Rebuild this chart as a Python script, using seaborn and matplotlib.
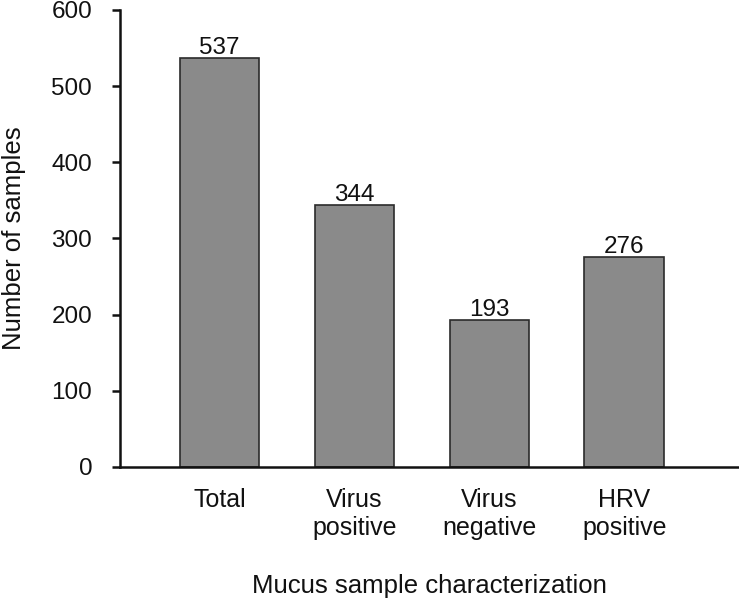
import numpy as np
import matplotlib
matplotlib.use("Agg")
import matplotlib.pyplot as plt
import pandas as pd
import seaborn as sns

# dados
categorias = ["Total", "Virus\npositive", "Virus\nnegative", "HRV\npositive"]
amostras = [537, 344, 193, 276]

df = pd.DataFrame({"categoria": categorias, "amostras": amostras})

sns.set_style("ticks")
plt.rcParams["font.family"] = ["Liberation Sans", "DejaVu Sans"]

fig = plt.figure(figsize=(7.39, 5.98), dpi=100)
ax = fig.add_axes([0.1624, 0.2191, 0.8376, 0.7642])

sns.barplot(data=df, x="categoria", y="amostras", color="#8a8a8a",
            saturation=1, width=0.59, edgecolor="#2b2b2b", linewidth=1.2, ax=ax)

# rotulos em cima das barras
for i, v in enumerate(amostras):
    ax.text(i, v + 5, str(v), ha="center", va="baseline", fontsize=17.5, color="#111111")

ax.set_ylim(0, 600)
ax.set_yticks(np.arange(0, 601, 100))
ax.set_xlim(-0.737, 3.85)

ax.spines["right"].set_visible(False)
ax.spines["top"].set_visible(False)
for s in ["left", "bottom"]:
    ax.spines[s].set_linewidth(1.8)
    ax.spines[s].set_color("#111111")

ax.tick_params(axis="y", length=6, width=1.8, pad=14, labelsize=17.5, colors="#111111")
ax.tick_params(axis="x", length=0, pad=15, labelsize=18, colors="#111111")

ax.set_xlabel("Mucus sample characterization", fontsize=18.5, labelpad=25, color="#111111")
ax.set_ylabel("Number of samples", fontsize=18.5, labelpad=18, color="#111111")

fig.savefig("out.png", dpi=100)
